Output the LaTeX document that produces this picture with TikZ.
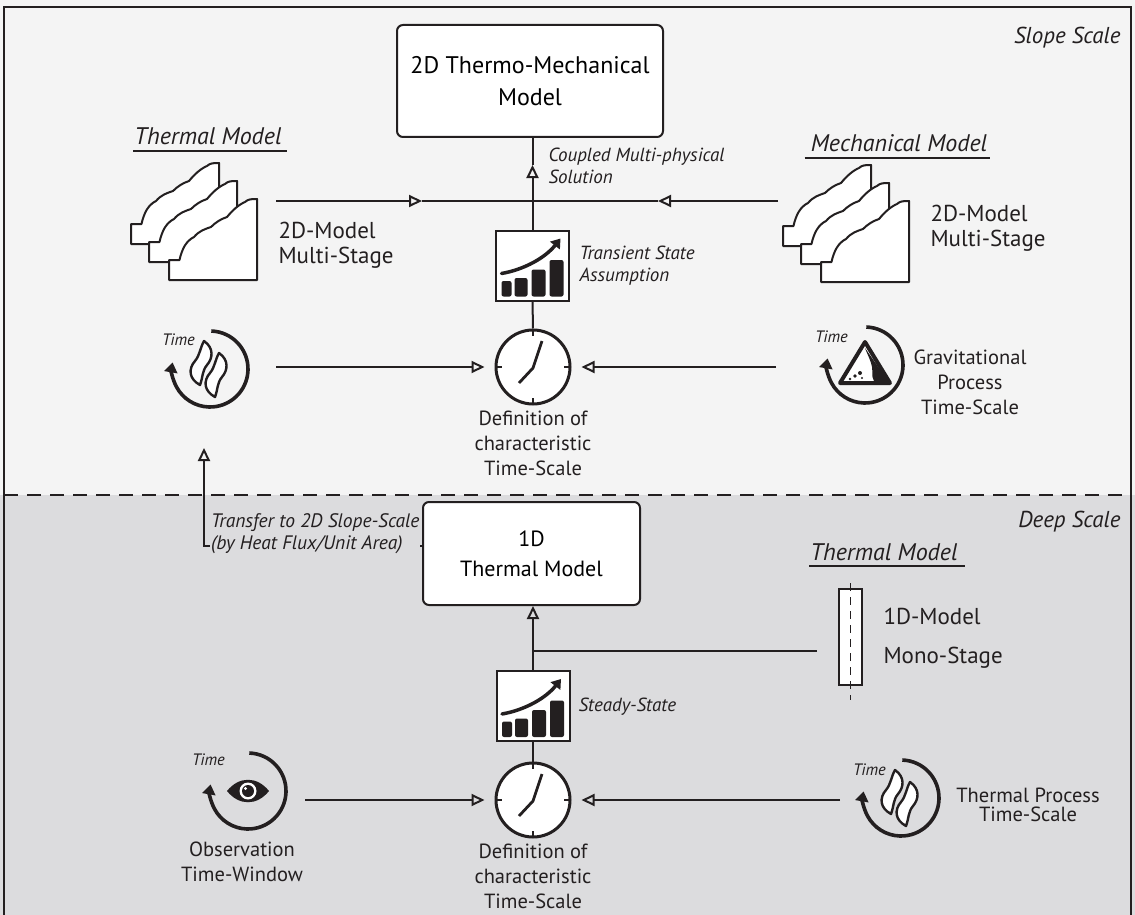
\documentclass[tikz,border=0pt]{standalone}
\usepackage{fontspec}
\setmainfont{PT Sans}
\usetikzlibrary{arrows.meta,calc}
\definecolor{ink}{HTML}{231F20}
\definecolor{slopebg}{HTML}{F4F4F4}
\definecolor{deepbg}{HTML}{DCDCDE}

\tikzset{
  conn/.style={draw=ink,line width=2},
  oarrow/.tip={Triangle[open,length=13pt,width=12pt]},
  modelbox/.style={draw=ink,line width=2,fill=white,rounded corners=6,align=center,
    font=\fontsize{24}{32}\selectfont,inner sep=0},
  chartbox/.style={draw=ink,line width=2,fill=white,minimum width=73,minimum height=70,inner sep=0},
  clocknode/.style={circle,draw=ink,line width=3,fill=white,minimum size=74,inner sep=0},
  iconspot/.style={circle,minimum size=76,inner sep=0},
  bigtxt/.style={align=center,font=\fontsize{20.5}{25}\selectfont,text=ink},
  stagetxt/.style={align=left,font=\fontsize{23}{25}\selectfont,text=ink},
  notetxt/.style={align=left,font=\itshape\fontsize{19}{22}\selectfont,text=ink},
  headtxt/.style={font=\itshape\fontsize{24}{26}\selectfont,text=ink,inner sep=0},
  scaletxt/.style={font=\itshape\fontsize{23}{25}\selectfont,text=ink,anchor=east},
  timetxt/.style={font=\itshape\fontsize{16.5}{18}\selectfont,text=ink,anchor=east,inner sep=0},
  % one layer of the stepped slope, origin at its bottom-left corner
  slopestage/.pic={
    \draw[ink,line width=2,fill=white,line join=round]
      (0,0) -- (0,-20) -- (10.5,-20)
      .. controls (13,-31) and (17,-39) .. (25,-43)
      .. controls (30,-49) and (36,-51) .. (42,-53)
      .. controls (47,-58) and (52,-61) .. (58,-63)
      .. controls (63,-69) and (69,-75) .. (76,-78)
      .. controls (79,-81) and (83,-81) .. (88,-81)
      -- (88,0) -- cycle;
  },
  slopestack/.pic={
    \pic at (0,0) {slopestage};
    \pic at (18,18) {slopestage};
    \pic at (38,36) {slopestage};
  },
  % rising bar chart
  chartpic/.pic={
    \fill[ink,rounded corners=2] (-31,31) rectangle (-21,15.5);
    \fill[ink,rounded corners=2] (-18,31) rectangle (-5,12.5);
    \fill[ink,rounded corners=2] (-1,31) rectangle (13,4);
    \fill[ink,rounded corners=2] (17,31) rectangle (31,-5.5);
    \draw[ink,line width=3.5,line cap=round,-{Triangle[length=9pt,width=12pt]}]
      (-31,8) .. controls (-8,4) and (13,-8) .. (28,-27);
  },
  clockhands/.pic={
    \foreach \a in {0,90,180,270} \draw[ink,line width=2.5] (\a:37) -- (\a:31);
    \draw[ink,line width=2.8,line join=round] (9,-26) -- (0,1) -- (-14,16);
  },
  timearc/.pic={
    \draw[ink,line width=3.6,-{Triangle[length=10pt,width=13pt]}]
      (-88:38) arc[start angle=-88,end angle=190,radius=38];
  },
  flame/.pic={
    \draw[ink,line width=2.4,fill=white,line join=round]
      (3,-22) .. controls (13,-15) and (12,-5) .. (6,2)
      .. controls (1,8) and (2,14) .. (-1,22)
      .. controls (-12,16) and (-13,6) .. (-6,-2)
      .. controls (-1,-8) and (-1,-15) .. cycle;
  },
  flames/.pic={
    \pic at (-9,-6) {flame};
    \pic at (6,6) {flame};
  },
  eye/.pic={
    \fill[ink] (-21,0) .. controls (-9,-15) and (9,-15) .. (21,0)
      .. controls (9,15) and (-9,15) .. cycle;
    \fill[white] (0,0) circle[radius=8.5];
    \fill[ink] (0,0) circle[radius=6];
    \fill[white] (-2.5,-2.5) circle[radius=1.6];
  },
  rockfall/.pic={
    \draw[ink,line width=4,line join=round,fill=white] (0,-23) -- (25,18) -- (-25,18) -- cycle;
    \fill[ink] (0,-17) .. controls (3,-9) and (6,-4) .. (7,2)
      .. controls (8,7) and (6,11) .. (9,16) -- (23,16) -- cycle;
    \fill[white] (3,-3) circle[radius=2];
    \fill[white] (-1,1) circle[radius=1.6];
    \fill[white] (4,4) circle[radius=1.4];
    \fill[ink] (-5,8) circle[radius=2];
    \fill[ink] (-10,11) circle[radius=1.8];
    \fill[ink] (-15,14) circle[radius=1.4];
    \fill[ink] (-3,13) circle[radius=1.2];
  },
}

\begin{document}
\begin{tikzpicture}[x=1pt,y=-1pt]
\useasboundingbox (0,0) rectangle (1135,915);

% the two scales
\fill[slopebg] (0,0) rectangle (1135,495);
\fill[deepbg] (0,495) rectangle (1135,915);
\draw[ink,line width=1.5] (4,915) -- (4,7) -- (1131,7) -- (1131,915);
\draw[ink,line width=2,dash pattern=on 14 off 9] (4,495) -- (1131,495);

\node[scaletxt] (slopescale) at (1124,38) {Slope Scale};
\node[scaletxt] (deepscale) at (1124,522) {Deep Scale};

% ---------------- slope scale ----------------
\node[modelbox,minimum width=266,minimum height=112] (tm2d) at (530,81)
  {2D Thermo-Mechanical\\Model};

\node[headtxt,anchor=base] (thermhead) at (208,145) {Thermal Model};
\draw[ink,line width=1.8] ($(thermhead.base west)+(-1,6)$) -- ($(thermhead.base east)+(5,6)$);
\pic at (131,244) {slopestack};
\node[stagetxt,anchor=west] (thermstage) at (275,245) {2D-Model\\Multi-Stage};

\node[headtxt,anchor=base] (mechhead) at (899,152) {Mechanical Model};
\draw[ink,line width=1.8] ($(mechhead.base west)+(-6,6)$) -- ($(mechhead.base east)+(3,6)$);
\pic at (783,246) {slopestack};
\node[stagetxt,anchor=west] (mechstage) at (927,228) {2D-Model\\Multi-Stage};

\node[chartbox] (chart1) at (532.5,265.5) {};
\pic at (chart1.center) {chartpic};
\node[notetxt,anchor=west] (transient) at (576,266) {Transient State\\Assumption};
\node[notetxt,anchor=west] (coupled) at (545,166) {Coupled Multi-physical\\Solution};

\coordinate (thermout) at (276,201);
\coordinate (thermtip) at (422,201);
\coordinate (mechout) at (778,201);
\coordinate (mechtip) at (658,201);
\coordinate (coupletip) at (532.5,165);
\draw[conn,-oarrow] (thermout) -- (thermtip);
\draw[conn] (thermtip) -- (mechtip);
\draw[conn,-oarrow] (mechout) -- (mechtip);
\draw[conn,-oarrow] (chart1.north) -- (coupletip);
\draw[conn] (coupletip) -- (tm2d.south -| coupletip);

\node[clocknode] (clock1) at (533,367) {};
\pic at (clock1.center) {clockhands};
\draw[conn] (chart1.south) -- (clock1.north);
\node[bigtxt,anchor=north] (def1) at (533,407) {Definition of\\characteristic\\Time-Scale};

\node[iconspot] (heat1) at (210,369) {};
\pic at (heat1.center) {timearc};
\pic at (heat1.center) {flames};
\node[timetxt] (time1) at (195,340) {Time};

\node[iconspot] (grav) at (865,365) {};
\pic at (grav.center) {timearc};
\pic at (grav.center) {rockfall};
\node[timetxt] (time2) at (848,337) {Time};
\node[bigtxt] (gravtxt) at (970,382) {Gravitational\\Process\\Time-Scale};

\coordinate (heat1out) at (276,367);
\coordinate (gravout) at (776,367);
\draw[conn,-oarrow,shorten >=10pt] (heat1out) -- (clock1.west);
\draw[conn,-oarrow,shorten >=10pt] (gravout) -- (clock1.east);

% ---------------- deep scale ----------------
\node[modelbox,font=\fontsize{22}{30}\selectfont,minimum width=217,minimum height=103] (tm1d) at (531.5,553.5)
  {1D\\Thermal Model};

\coordinate (transferup) at (204,448);
\coordinate (transferbend) at (204,546);
\draw[conn,-oarrow] (tm1d.west |- transferbend) -- (transferbend) -- (transferup);
\node[notetxt,anchor=west,fill=deepbg,inner sep=1,font=\itshape\fontsize{19.5}{22}\selectfont] (transfer) at (210,534)
  {Transfer to 2D Slope-Scale\\(by Heat Flux/Unit Area)};

\node[headtxt,anchor=base] (thermhead2) at (884,560) {Thermal Model};
\draw[ink,line width=1.8] ($(thermhead2.base west)+(-1,6)$) -- ($(thermhead2.base east)+(7,6)$);
\node[draw=ink,line width=1.5,fill=white,minimum width=23,minimum height=96,inner sep=0] (rod) at (850.5,637) {};
\draw[ink,line width=1.5,dash pattern=on 8 off 6] (850.5,583) -- (850.5,700);
\node[stagetxt,anchor=west,font=\fontsize{23}{39}\selectfont] (monostage) at (880,638) {1D-Model\\Mono-Stage};

\node[chartbox] (chart2) at (533,706) {};
\pic at (chart2.center) {chartpic};
\node[notetxt,anchor=west] (steady) at (575,707) {Steady-State};

\coordinate (rodout) at (817,651);
\draw[conn,-oarrow] (chart2.north) -- (tm1d.south -| chart2.north);
\draw[conn] (rodout) -- (rodout -| chart2.north);

\node[clocknode] (clock2) at (533,800) {};
\pic at (clock2.center) {clockhands};
\draw[conn] (chart2.south) -- (clock2.north);
\node[bigtxt,anchor=north] (def2) at (533,840) {Definition of\\characteristic\\Time-Scale};

\node[iconspot] (obs) at (248,791) {};
\pic at (obs.center) {timearc};
\pic at (obs.center) {eye};
\node[timetxt] (time3) at (225,760) {Time};
\node[bigtxt] (obstxt) at (242,862) {Observation\\Time-Window};

\node[iconspot] (heat2) at (901,798) {};
\pic at (heat2.center) {timearc};
\pic at (heat2.center) {flames};
\node[timetxt] (time4) at (886,770) {Time};
\node[bigtxt,font=\fontsize{20.5}{19}\selectfont] (heat2txt) at (1028,805) {Thermal Process\\Time-Scale};

\coordinate (obsout) at (305,800);
\coordinate (heat2out) at (840,800);
\draw[conn,-oarrow,shorten >=10pt] (obsout) -- (clock2.west);
\draw[conn,-oarrow,shorten >=10pt] (heat2out) -- (clock2.east);
\end{tikzpicture}
\end{document}
